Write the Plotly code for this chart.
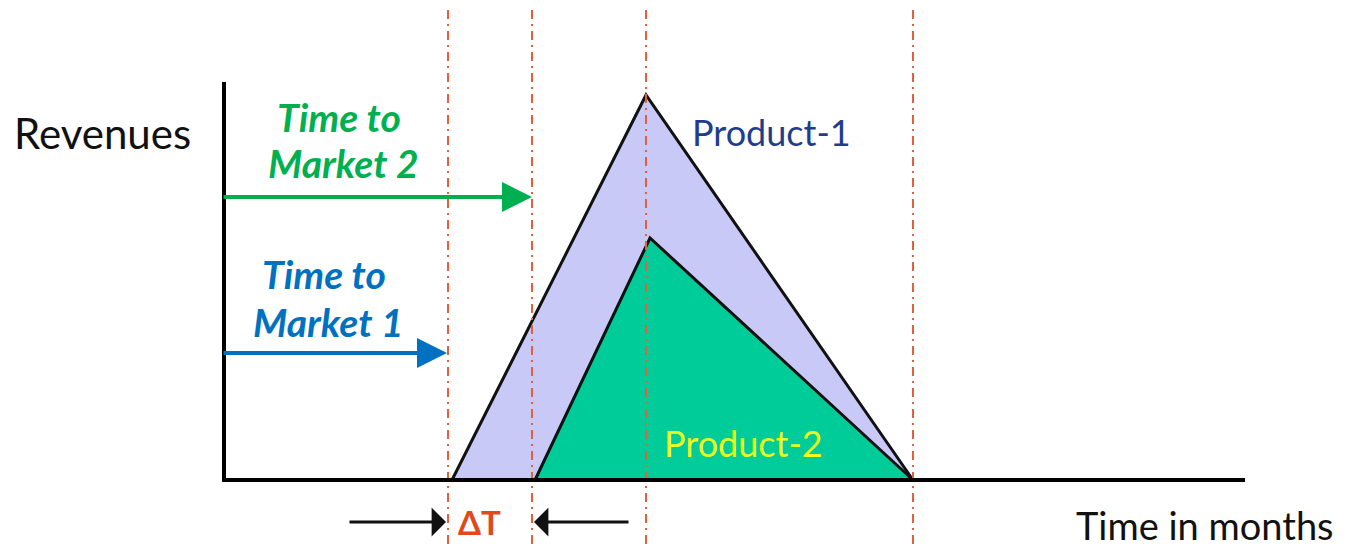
import plotly.graph_objects as go

# Coordinates: x = horizontal position (time units, origin at y-axis), y = revenue (up)
X0_PX, Y0_PX = 224, 480  # pixel location of the origin in the 1351x549 frame
PAGE_OFF = 8             # default body margin of the page

# Data
product1_t = [228, 422, 689]
product1_rev = [0, 385, 0]
product2_t = [311, 426, 689]
product2_rev = [0, 242, 0]
vline_t = [224, 308, 422, 689]          # dash-dot markers (TTM1, TTM2, peak, end)
yaxis_top = 398
xaxis_end = 1021
ttm2_arrow = {"from": -2, "to": 308, "rev": 283}
ttm1_arrow = {"from": -2, "to": 223, "rev": 127}
dt_left_arrow = {"from": 124, "to": 222, "rev": -42}
dt_right_arrow = {"from": 406, "to": 310, "rev": -42}

fig = go.Figure()

# Product-1 triangle
fig.add_trace(go.Scatter(x=product1_t + [product1_t[0]], y=product1_rev + [product1_rev[0]],
                         fill="toself", fillcolor="#c9c9f7", mode="lines",
                         line=dict(color="#111111", width=3), hoverinfo="skip"))
# Product-2 triangle
fig.add_trace(go.Scatter(x=product2_t + [product2_t[0]], y=product2_rev + [product2_rev[0]],
                         fill="toself", fillcolor="#00cc99", mode="lines",
                         line=dict(color="#111111", width=3), hoverinfo="skip"))

# Dash-dot vertical lines
for t in vline_t:
    fig.add_trace(go.Scatter(x=[t, t], y=[470, -75], mode="lines",
                             line=dict(color="#e2603a", width=2, dash="9px,5px,2px,5px"),
                             hoverinfo="skip"))

# Axes
fig.add_trace(go.Scatter(x=[0, 0], y=[-2, yaxis_top], mode="lines",
                         line=dict(color="black", width=4), hoverinfo="skip"))
fig.add_trace(go.Scatter(x=[-2, xaxis_end], y=[0, 0], mode="lines",
                         line=dict(color="black", width=4), hoverinfo="skip"))

ann = []
def arrow(a, color, width, head, size):
    ann.append(dict(x=a["to"], y=a["rev"], ax=a["from"], ay=a["rev"], xref="x", yref="y",
                    axref="x", ayref="y", showarrow=True, arrowhead=head, arrowsize=size,
                    arrowwidth=width, arrowcolor=color, text=""))

arrow(ttm2_arrow, "#00b050", 4, 2, 1.5)
arrow(ttm1_arrow, "#0070c0", 4, 2, 1.5)
arrow(dt_left_arrow, "#111111", 3, 1, 1.6)
arrow(dt_right_arrow, "#111111", 3, 1, 1.6)

FONT = "Lato"
def label(txt, xpx, ypx, color, size, bold=False, italic=False):
    t = txt
    if bold:
        t = f"<b>{t}</b>"
    if italic:
        t = f"<i>{t}</i>"
    ann.append(dict(x=xpx - X0_PX, y=Y0_PX - ypx, xref="x", yref="y", text=t, showarrow=False,
                    xanchor="center", yanchor="middle",
                    font=dict(family=FONT, size=size, color=color)))

label("Revenues", 102, 133, "#111111", 42)
label("Time to", 339, 117, "#00b050", 39, bold=True, italic=True)
label("Market 2", 343, 163, "#00b050", 39, bold=True, italic=True)
label("Time to", 324, 274, "#0070c0", 39, bold=True, italic=True)
label("Market 1", 328, 322, "#0070c0", 39, bold=True, italic=True)
label("Product-1", 771, 132, "#1f3d8c", 36)
label("Product-2", 743, 443, "#e8ff20", 36)
label("ΔT", 479, 522, "#e04a1a", 33, bold=True)
label("Time in months", 1205, 525, "#111111", 38)

W = 1351 - PAGE_OFF
H = 549 - PAGE_OFF
fig.update_layout(
    width=W, height=H,
    margin=dict(l=0, r=0, t=0, b=0),
    paper_bgcolor="white", plot_bgcolor="white",
    showlegend=False,
    annotations=ann,
    xaxis=dict(range=[PAGE_OFF - X0_PX, 1351 - X0_PX], visible=False, fixedrange=True),
    yaxis=dict(range=[Y0_PX - 549, Y0_PX - PAGE_OFF], visible=False, fixedrange=True),
)

fig.write_html("out.html")
